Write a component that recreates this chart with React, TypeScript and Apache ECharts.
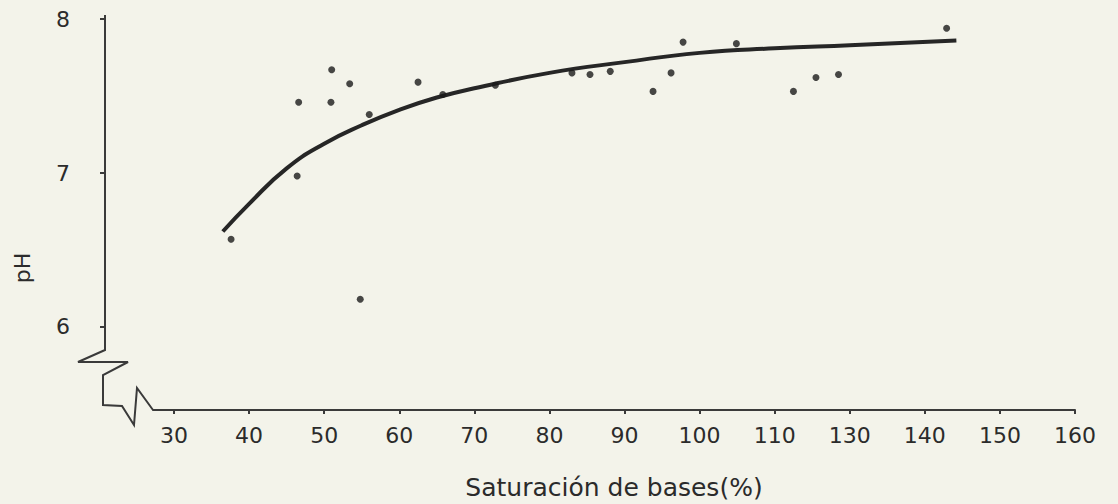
import React, { useEffect, useRef } from "react";
import * as echarts from "echarts";

// Tick positions on the (equally spaced) x axis and the labels printed under them
const xTickValues = [30, 40, 50, 60, 70, 80, 90, 100, 110, 120, 130, 140, 150];
const xTickLabels = ["30", "40", "50", "60", "70", "80", "90", "100", "110", "130", "140", "150", "160"];
const yTickValues = [6, 7, 8];

// Observed points (x in axis position units, pH)
const pointX = [51.0, 53.4, 46.6, 50.9, 56.0, 62.5, 46.4, 72.8, 83.0, 85.4, 88.1, 93.8, 96.2, 97.8, 104.9, 112.5, 115.5, 118.5, 132.9, 37.6, 54.8, 65.8];
const pointY = [7.67, 7.58, 7.46, 7.46, 7.38, 7.59, 6.98, 7.57, 7.65, 7.64, 7.66, 7.53, 7.65, 7.85, 7.84, 7.53, 7.62, 7.64, 7.94, 6.57, 6.18, 7.51];

// Fitted curve
const curveX = [36.5, 40, 45, 50, 55, 60, 65, 70, 80, 90, 100, 110, 120, 134.2];
const curveY = [6.62, 6.8, 7.03, 7.19, 7.31, 7.41, 7.49, 7.55, 7.65, 7.72, 7.78, 7.81, 7.83, 7.86];

const INK = "#2b2b2b";
const FONT = "DejaVu Sans";

export default function App() {
  const ref = useRef<HTMLDivElement>(null);

  useEffect(() => {
    if (!ref.current) return;
    const chart = echarts.init(ref.current, undefined, { renderer: "svg" });
    const points = pointX.map((x, i) => [x, pointY[i]]);
    const curve = curveX.map((x, i) => [x, curveY[i]]);

    chart.setOption({
      animation: false,
      backgroundColor: "#f3f3ea",
      grid: { left: 153, right: 43, top: 15, bottom: 94, containLabel: false, outerBoundsMode: "none" },
      xAxis: {
        type: "value",
        min: 27.2,
        max: 150,
        name: "Saturación de bases(%)",
        nameLocation: "middle",
        nameGap: 65,
        nameTextStyle: { fontFamily: FONT, fontSize: 25, color: INK },
        axisLine: { show: true, lineStyle: { color: "#3a3a3a", width: 2 } },
        axisTick: { show: true, inside: false, length: 4, customValues: xTickValues, lineStyle: { color: "#3a3a3a", width: 2 } },
        axisLabel: {
          customValues: xTickValues,
          margin: 14,
          fontFamily: FONT,
          fontSize: 22,
          color: INK,
          formatter: (v: number) => {
            const i = xTickValues.indexOf(Math.round(v));
            return i >= 0 ? xTickLabels[i] : "";
          },
        },
        splitLine: { show: false },
      },
      yAxis: {
        type: "value",
        min: 5.461,
        max: 8.026,
        offset: 48,
        axisLine: { show: false },
        axisTick: { show: true, length: 5, customValues: yTickValues, lineStyle: { color: "#3a3a3a", width: 2 } },
        axisLabel: {
          customValues: yTickValues,
          margin: 35,
          fontFamily: FONT,
          fontSize: 22,
          color: INK,
        },
        splitLine: { show: false },
      },
      graphic: [
        {
          type: "polyline",
          shape: {
            points: [
              [105, 15], [105, 350], [78, 362], [128, 362], [103, 375], [103, 405],
              [122, 406], [134, 425], [137, 388], [153, 410],
            ],
          },
          style: { stroke: "#3a3a3a", lineWidth: 2, fill: null },
          silent: true,
        },
        {
          type: "text",
          x: 22,
          y: 268,
          rotation: Math.PI / 2,
          style: {
            text: "pH",
            fontFamily: FONT,
            fontSize: 22,
            fill: INK,
            textAlign: "center",
            textVerticalAlign: "middle",
          },
          silent: true,
        },
      ],
      series: [
        {
          type: "line",
          data: curve,
          smooth: 0.5,
          showSymbol: false,
          lineStyle: { color: "#262626", width: 4 },
          z: 2,
        },
        {
          type: "scatter",
          data: points,
          symbolSize: 7,
          itemStyle: { color: "#1a1a1a" },
          z: 3,
        },
      ],
    });

    return () => chart.dispose();
  }, []);

  return (
    <div
      ref={ref}
      style={{ position: "fixed", left: 0, top: 0, width: 1118, height: 504 }}
    />
  );
}
